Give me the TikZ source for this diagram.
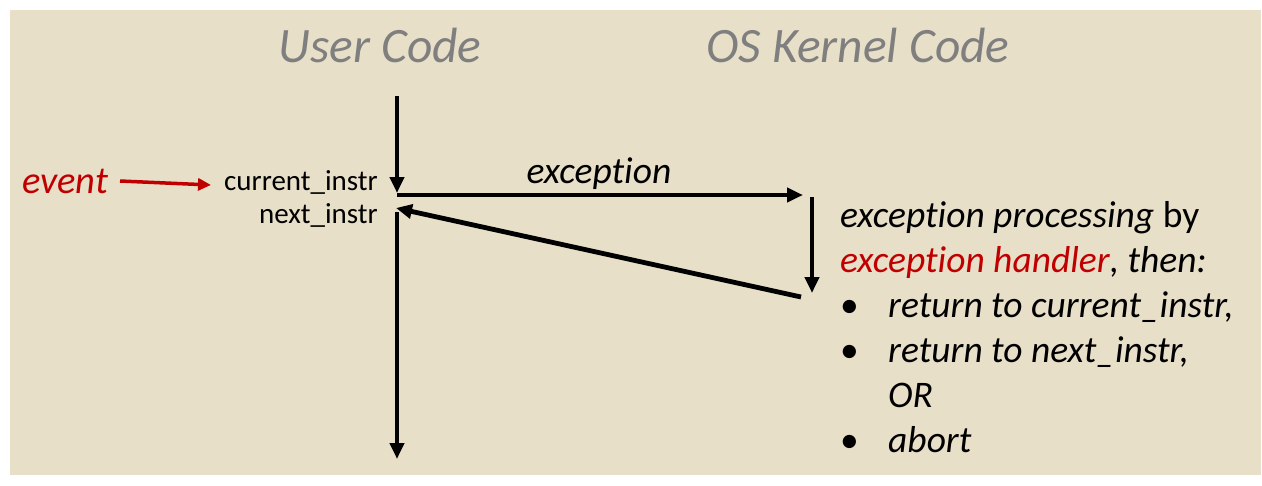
\documentclass[tikz,border=0pt]{standalone}
\usepackage{fontspec}
\setmainfont{Carlito}[RawFeature={-liga}]
\usetikzlibrary{arrows.meta}
\definecolor{bg}{HTML}{E8DFC8}
\definecolor{ttl}{HTML}{7F7F7F}
\definecolor{evred}{HTML}{C00000}
\begin{document}
\begin{tikzpicture}[x=1pt,y=-1pt,
  flow/.style={line width=4.8pt,-{Triangle[length=16pt,width=14pt]}},
  redflow/.style={line width=3.5pt,evred,-{Triangle[length=13pt,width=12pt]}},
  title/.style={font=\fontsize{49.5}{58}\selectfont\itshape,text=ttl,inner sep=0pt,anchor=base},
  body/.style={font=\fontsize{37.5}{44}\selectfont,inner sep=0pt,anchor=base west},
  instr/.style={font=\fontsize{29}{34}\selectfont,inner sep=0pt,anchor=base east}]
\useasboundingbox (0,0) rectangle (1262,485);
\fill[bg] (10,10) rectangle (1261,475);
% titles
\node[title] (tuser) at (380,62) {User Code};
\node[title] (tos) at (858,62) {OS Kernel Code};
% coordinates
\coordinate (utop) at (397,96);
\coordinate (ucur) at (397,193);
\coordinate (uh) at (397,195);
\coordinate (ktarget) at (803,195);
\coordinate (ktop) at (812,197);
\coordinate (kbot) at (812,293);
\coordinate (kret) at (801,297);
\coordinate (unext) at (396,208);
\coordinate (ulow) at (397,212);
\coordinate (uend) at (397,459);
\coordinate (evs) at (120,181);
\coordinate (eve) at (211,185);
% user code flow
\draw[flow] (utop) -- (ucur);
\draw[flow] (uh) -- (ktarget);
\draw[flow] (ktop) -- (kbot);
\draw[flow] (kret) -- (unext);
\draw[flow] (ulow) -- (uend);
% labels
\node[body,anchor=base] (exc) at (599,183) {\itshape exception};
\node[body,text=evred,font=\fontsize{38.5}{44}\selectfont] (ev) at (22,193) {\itshape event};
\draw[redflow] (evs) -- (eve);
\node[instr] (cur) at (378,190) {current\_instr};
\node[instr] (nxt) at (378,223) {next\_instr};
% right text block
\node[body] (l1) at (840,227) {\itshape exception processing\/\upshape{} by};
\node[body] (l2) at (840,272) {\itshape\textcolor{evred}{exception handler}, then:};
\node[body] (b1) at (840,317) {•};
\node[body] (l3) at (888,317) {\itshape return to current\_instr,};
\node[body] (b2) at (840,362) {•};
\node[body] (l4) at (888,362) {\itshape return to next\_instr,};
\node[body] (l5) at (888,407) {\itshape OR};
\node[body] (b3) at (840,452) {•};
\node[body] (l6) at (888,452) {\itshape abort};
\end{tikzpicture}
\end{document}
